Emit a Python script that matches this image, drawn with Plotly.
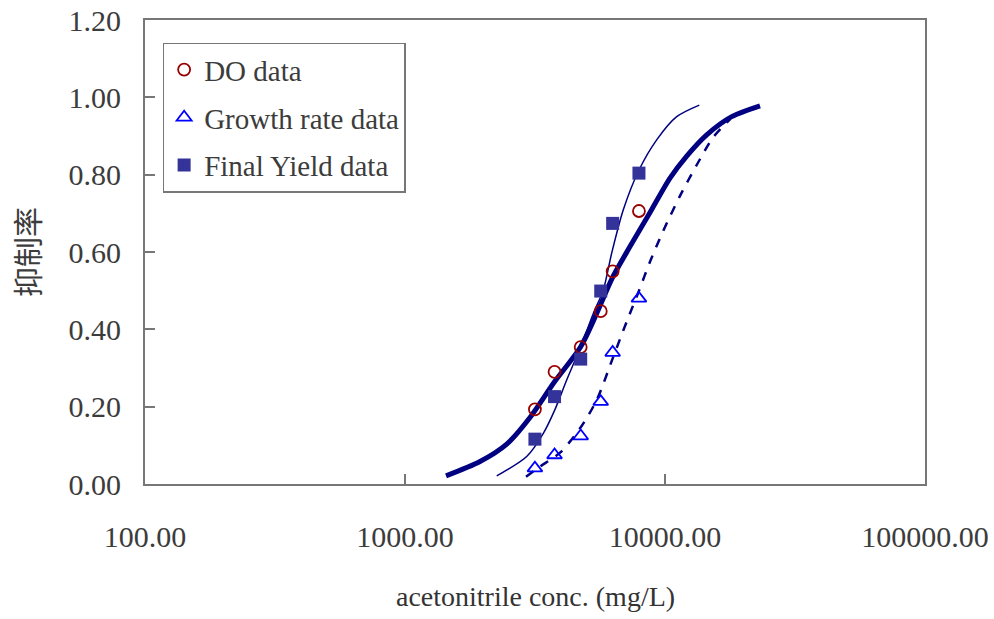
import plotly.graph_objects as go

# Measured data points
conc = [3160, 3760, 4740, 5660, 6290, 7940]
do_data = [0.193, 0.290, 0.354, 0.447, 0.550, 0.706]
growth_data = [0.041, 0.075, 0.124, 0.213, 0.340, 0.480]
yield_data = [0.116, 0.226, 0.323, 0.499, 0.674, 0.804]

# Fitted curves
do_fit_x = [1438, 1943, 2462, 3025, 3765, 4740, 5461, 6292, 7334, 8756, 10452, 12120, 14467, 18053, 23198]
do_fit_y = [0.021, 0.058, 0.103, 0.172, 0.265, 0.355, 0.441, 0.535, 0.614, 0.702, 0.791, 0.848, 0.903, 0.950, 0.978]

yield_fit_x = [2253, 2938, 3404, 3765, 4187, 4740, 5300, 5790, 6237, 6912, 7943, 9290, 11090, 13550]
yield_fit_y = [0.021, 0.071, 0.131, 0.191, 0.269, 0.355, 0.441, 0.502, 0.597, 0.709, 0.812, 0.890, 0.950, 0.980]

growth_fit_x = [2920, 3305, 3947, 4711, 5461, 6292, 7124, 7943, 8756, 9851, 11420, 13240, 15340, 17780]
growth_fit_y = [0.019, 0.045, 0.081, 0.144, 0.217, 0.325, 0.420, 0.500, 0.575, 0.655, 0.745, 0.825, 0.897, 0.943]

x_ticks = [100, 1000, 10000, 100000]
x_ticktext = ["100.00", "1000.00", "10000.00", "100000.00"]
y_ticks = [0, 0.2, 0.4, 0.6, 0.8, 1.0, 1.2]
y_ticktext = ["0.00", "0.20", "0.40", "0.60", "0.80", "1.00", "1.20"]

SERIF = "Liberation Serif, Times New Roman, serif"
NAVY = "#000080"
TXT = "#3c3c3c"

fig = go.Figure()

fig.add_trace(go.Scatter(x=yield_fit_x, y=yield_fit_y, mode="lines",
                         line=dict(color=NAVY, width=1.5, shape="spline", smoothing=0.8),
                         showlegend=False, hoverinfo="skip"))
fig.add_trace(go.Scatter(x=growth_fit_x, y=growth_fit_y, mode="lines",
                         line=dict(color=NAVY, width=2.5, dash="dash", shape="spline", smoothing=0.8),
                         showlegend=False, hoverinfo="skip"))
fig.add_trace(go.Scatter(x=do_fit_x, y=do_fit_y, mode="lines",
                         line=dict(color=NAVY, width=5, shape="spline", smoothing=0.8),
                         showlegend=False, hoverinfo="skip"))

fig.add_trace(go.Scatter(x=conc, y=do_data, mode="markers", name="DO data", legendgroup="a",
                         marker=dict(symbol="circle-open", size=12, color="#990000", line=dict(width=1.8))))
fig.add_trace(go.Scatter(x=conc, y=growth_data, mode="markers", name="Growth rate data", legendgroup="b",
                         marker=dict(symbol="triangle-up-open", size=13, color="#0000FF", line=dict(width=1.8))))
fig.add_trace(go.Scatter(x=conc, y=yield_data, mode="markers", name="Final Yield data", legendgroup="c",
                         marker=dict(symbol="square", size=13, color="#333399")))

axis_common = dict(showline=True, linecolor="#777777", linewidth=2, mirror=True,
                   showgrid=False, zeroline=False, ticks="inside", ticklen=10,
                   tickcolor="#777777", tickwidth=1.5, automargin=False,
                   tickfont=dict(family=SERIF, size=30, color=TXT))

fig.update_layout(
    width=994, height=619,
    margin=dict(l=145, r=69, t=20, b=135),
    paper_bgcolor="white", plot_bgcolor="white",
    xaxis=dict(type="log", range=[2, 5], tickvals=x_ticks, ticktext=x_ticktext,
               ticklabelstandoff=25, **axis_common),
    yaxis=dict(range=[0, 1.2], tickvals=y_ticks, ticktext=y_ticktext,
               ticklabelstandoff=16, **axis_common),
    legend=dict(x=0.0226, y=0.951, xanchor="left", yanchor="top",
                bgcolor="white", bordercolor="#777777", borderwidth=1.5,
                font=dict(family=SERIF, size=29, color=TXT),
                tracegroupgap=7, itemwidth=30),
    showlegend=True,
    annotations=[
        dict(text="抑制率", xref="paper", yref="paper", x=-0.1526, y=0.5,
             textangle=-90, showarrow=False, xanchor="center", yanchor="middle",
             font=dict(family="Noto Sans CJK TC", size=30, color=TXT)),
        dict(text="acetonitrile conc. (mg/L)", xref="paper", yref="paper", x=0.5, y=-0.243,
             showarrow=False, xanchor="center", yanchor="middle",
             font=dict(family=SERIF, size=28, color="#333333")),
    ],
)

fig.write_html("out.html")
